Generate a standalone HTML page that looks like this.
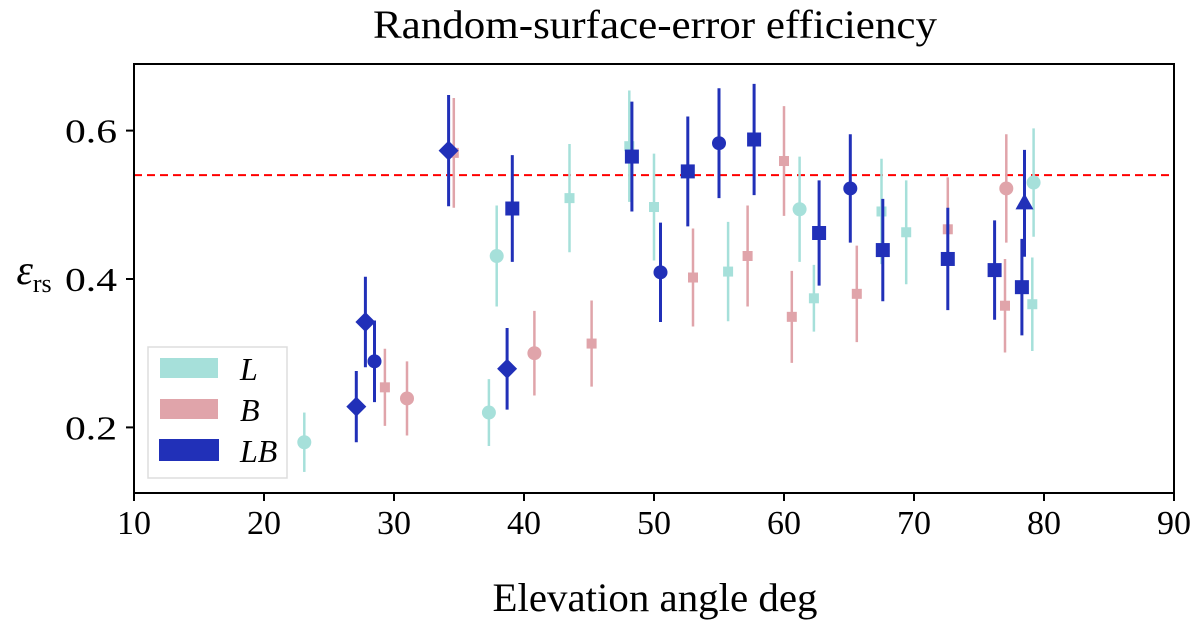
<!DOCTYPE html>
<html><head><meta charset="utf-8"><style>
body{margin:0;background:#fff}
svg{display:block;font-family:"Liberation Serif",serif}
</style></head><body>
<svg id="chart" width="1200" height="622" xmlns="http://www.w3.org/2000/svg">
<text x="655" y="38" font-size="40" text-anchor="middle" textLength="564" lengthAdjust="spacingAndGlyphs">Random-surface-error efficiency</text>
<text x="655" y="611" font-size="40" text-anchor="middle" textLength="325" lengthAdjust="spacingAndGlyphs">Elevation angle deg</text>
<text x="34" y="284" font-size="42" font-style="italic" text-anchor="middle">ε<tspan font-size="26" font-style="normal" dy="8">rs</tspan></text>
<g id="ticks"></g>
<g id="marks"></g>
<rect x="134" y="64" width="1040" height="429" fill="none" stroke="#000" stroke-width="2"/>
<g>
<rect x="148" y="347" width="139" height="131" fill="#fff" fill-opacity="0.8" stroke="#ddd" stroke-width="1.5"/>
<g><rect x="160" y="358" width="58" height="20" fill="#a6e0da"/><text x="240" y="380" font-size="32" font-style="italic">L</text></g>
<g><rect x="160" y="399" width="58" height="20" fill="#e0a4aa"/><text x="240" y="421" font-size="32" font-style="italic">B</text></g>
<g><rect x="159" y="439" width="60" height="22" fill="#2130b8"/><text x="240" y="462" font-size="32" font-style="italic">LB</text></g>
</g>
</svg>
<script>
const xTicks=[10,20,30,40,50,60,70,80,90];
const yTicks=[0.2,0.4,0.6];
const refLine=0.54;
const lX=[23.1,37.3,37.9,43.5,48.1,50.0,55.7,61.2,62.3,67.5,69.4,79.2,79.1];
const lY=[0.180,0.220,0.431,0.509,0.579,0.497,0.410,0.494,0.374,0.491,0.463,0.530,0.366];
const lE=[0.04,0.045,0.068,0.073,0.075,0.072,0.067,0.071,0.045,0.071,0.07,0.073,0.063];
const lM=['o','o','o','s','s','s','s','o','s','s','s','o','s'];
const bX=[29.3,31.0,34.6,40.8,45.2,53.0,57.2,60.0,60.6,65.6,72.6,77.1,77.0];
const bY=[0.254,0.239,0.570,0.300,0.313,0.402,0.431,0.559,0.349,0.380,0.467,0.522,0.364];
const bE=[0.052,0.05,0.074,0.057,0.058,0.066,0.068,0.074,0.062,0.065,0.07,0.073,0.063];
const bM=['s','o','s','o','s','s','s','s','s','s','s','o','s'];
const lbX=[27.1,27.8,28.5,34.2,38.7,39.1,48.3,50.5,52.6,55.0,57.7,62.7,65.1,67.6,72.6,76.2,78.5,78.3];
const lbY=[0.228,0.342,0.289,0.573,0.279,0.495,0.565,0.409,0.545,0.583,0.588,0.462,0.522,0.439,0.427,0.412,0.502,0.389];
const lbE=[0.048,0.061,0.055,0.075,0.055,0.072,0.074,0.067,0.074,0.074,0.075,0.071,0.073,0.069,0.069,0.067,0.072,0.065];
const lbM=['d','d','o','d','d','s','s','o','s','o','s','s','o','s','s','s','t','s'];

const NS='http://www.w3.org/2000/svg';
const X=v=>134+(v-10)*13;
const Y=v=>279-(v-0.4)*742;
function mk(tag,attrs,parent){const e=document.createElementNS(NS,tag);for(const k in attrs)e.setAttribute(k,attrs[k]);parent.appendChild(e);return e;}
const tg=document.getElementById('ticks');
xTicks.forEach(t=>{
  const l=mk('line',{x1:X(t),x2:X(t),y1:493,y2:501,stroke:'#000','stroke-width':2},tg);
  
  
  const s=mk('text',{x:X(t),y:534,'font-size':34,'text-anchor':'middle'},tg);
  s.textContent=t;
  
  
});
yTicks.forEach(t=>{
  const l=mk('line',{x1:126,x2:134,y1:Y(t),y2:Y(t),stroke:'#000','stroke-width':2},tg);
  
  
  const s=mk('text',{x:117,y:Y(t)+12,'font-size':34,'text-anchor':'end',textLength:52,lengthAdjust:'spacingAndGlyphs'},tg);
  s.textContent=t.toFixed(1);
  
  
});
const mg=document.getElementById('marks');
const rl=mk('line',{x1:134,x2:1174,y1:Y(refLine),y2:Y(refLine),stroke:'#f00','stroke-width':2,'stroke-dasharray':'8,5'},mg);


function series(xs,ys,es,ms,color,lw,sq,circ,name){
  xs.forEach((x,i)=>{
    const cx=X(x),cy=Y(ys[i]);
    const g=mk('g',{},mg);
    
    
    mk('line',{x1:cx,x2:cx,y1:Y(ys[i]+es[i]),y2:Y(ys[i]-es[i]),stroke:color,'stroke-width':lw},g);
    const m=ms[i];
    if(m==='s')mk('rect',{x:cx-sq/2,y:cy-sq/2,width:sq,height:sq,fill:color},g);
    else if(m==='o')mk('circle',{cx:cx,cy:cy,r:circ,fill:color},g);
    else if(m==='d')mk('polygon',{points:`${cx},${cy-10} ${cx+10},${cy} ${cx},${cy+10} ${cx-10},${cy}`,fill:color},g);
    else if(m==='t')mk('polygon',{points:`${cx},${cy-10} ${cx+9},${cy+6} ${cx-9},${cy+6}`,fill:color},g);
  });
}
series(lX,lY,lE,lM,'#a6e0da',2.5,10,7,'l');
series(bX,bY,bE,bM,'#e0a4aa',2.5,10,7,'b');
series(lbX,lbY,lbE,lbM,'#2130b8',3,14,7,'lb');
</script>
</body></html>
